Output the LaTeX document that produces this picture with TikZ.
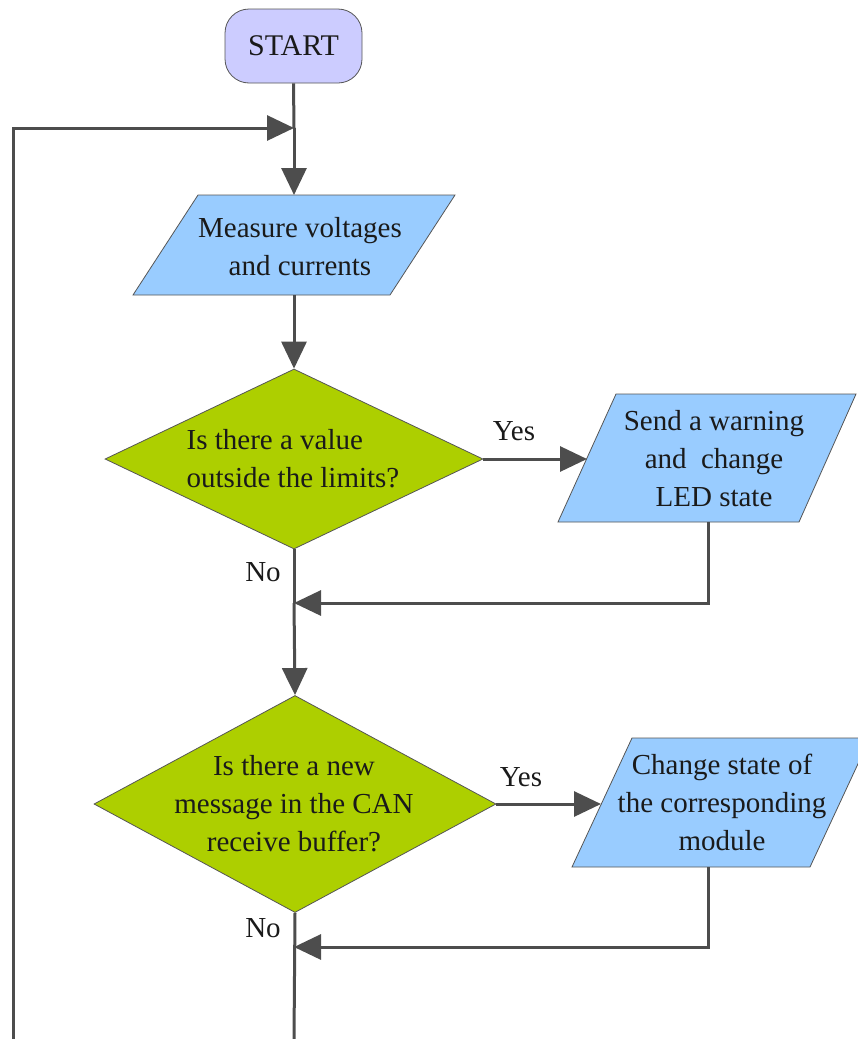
\documentclass[tikz,border=0pt]{standalone}
\usepackage{fontspec}
\setmainfont{Liberation Serif}
\usetikzlibrary{arrows.meta,shapes.geometric}
\definecolor{startfill}{HTML}{CCCCFF}
\definecolor{iofill}{HTML}{99CCFF}
\definecolor{decfill}{HTML}{ADCF00}
\definecolor{edge}{HTML}{4D4D4D}
\definecolor{outline}{HTML}{555555}
\definecolor{ink}{HTML}{1A1A1A}
\begin{document}
\begin{tikzpicture}[x=1pt,y=-1pt,
  every node/.style={font=\fontsize{29}{38}\selectfont, inner sep=0pt, text=ink},
  shapeline/.style={draw=outline, line width=0.8pt},
  iobox/.style={shapeline, fill=iofill},
  decbox/.style={shapeline, fill=decfill, diamond, inner sep=0pt},
  flow/.style={draw=edge, line width=3pt, -{Triangle[length=27pt,width=25pt]}},
  plain/.style={draw=edge, line width=3pt},
  lbl/.style={anchor=base}]
\useasboundingbox (0,0) rectangle (857,1039);

% terminator
\node[shapeline, fill=startfill, rounded corners=24pt, minimum width=137pt,
      minimum height=74pt] (start) at (293.5,46) {\fontsize{30}{38}\selectfont START};

% input/output boxes (parallelograms)
\path[iobox] (198,195) -- (455,195) -- (390,295) -- (133,295) -- cycle;
\coordinate (meastop) at (294,195);
\coordinate (measbot) at (294,295);
\node[align=center] (meas) at (300,247) {Measure voltages\\and currents};

\path[iobox] (616,394) -- (856,394) -- (799,522) -- (558,522) -- cycle;
\coordinate (sendin) at (587,459);
\coordinate (sendbot) at (708,522);
\node[align=center] (send) at (714,459) {Send a warning\\and\ \ change\\LED state};

\path[iobox] (632,738) -- (870,738) -- (810,867) -- (572,867) -- cycle;
\coordinate (chgin) at (601,804);
\coordinate (chgbot) at (708,867);
\node[align=center] (chg) at (722,802) {Change state of\\the corresponding\\module};

% decisions
\node[decbox, minimum width=378pt, minimum height=180pt] (d1) at (294,459) {};
\node[align=left] (d1t) at (293,459) {Is there a value\\outside the limits?};

\node[decbox, minimum width=402pt, minimum height=217pt] (d2) at (295,804) {};
\node[align=center] (d2t) at (294,804) {Is there a new\\message in the CAN\\receive buffer?};

% join points and free ends
\coordinate (loopjoin) at (294,128);
\coordinate (loopfoot) at (13,1039);
\coordinate (join1) at (294,603);
\coordinate (join2) at (294,947);
\coordinate (bottom) at (294,1039);

% main flow
\draw[plain] (start.south) -- (loopjoin);
\draw[flow] (loopjoin) -- (meastop);
\draw[flow] (loopfoot) |- (loopjoin);
\draw[flow] (measbot) -- (d1.north);
\draw[flow] (d1.east) -- (sendin);
\draw[flow] (sendbot) |- (join1);
\draw[plain] (d1.south) -- (join1);
\draw[flow] (join1) -- (d2.north);
\draw[flow] (d2.east) -- (chgin);
\draw[flow] (chgbot) |- (join2);
\draw[plain] (d2.south) -- (bottom);

% branch labels
\node[lbl] (yes1) at (514,440) {Yes};
\node[lbl] (no1) at (263,581) {No};
\node[lbl] (yes2) at (521,786) {Yes};
\node[lbl] (no2) at (263,937) {No};
\end{tikzpicture}
\end{document}
